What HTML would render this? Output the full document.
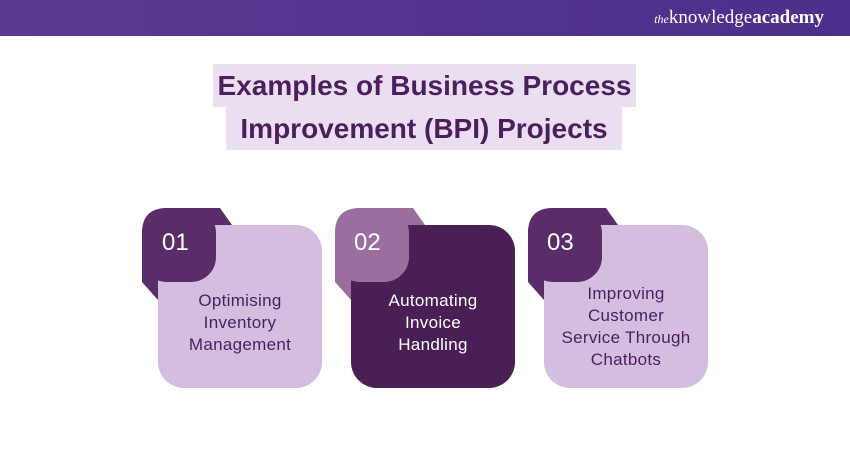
<!DOCTYPE html>
<html><head><style>
body{margin:0;width:850px;height:450px;background:#fff;position:relative;overflow:hidden;font-family:"Liberation Sans",sans-serif}
.hdr{position:absolute;left:0;top:0;width:850px;height:36px;background:linear-gradient(90deg,#5a3a92,#4b2f8c)}
.logo{position:absolute;right:26px;top:7px;color:#fff;font-family:"Liberation Serif",serif;font-size:19px}
.logo i{font-size:12px}
.t{position:absolute;background:#eadff0;color:#4b1f5e;font-weight:bold;font-size:28px;text-align:center;line-height:43px}
.lbl{position:absolute;font-size:17px;line-height:22px;text-align:center;letter-spacing:0.3px}
.num{position:absolute;color:#fff;font-size:24px}
</style></head><body>
<div class="hdr"><div class="logo"><i>the</i>knowledge<b>academy</b></div></div>
<div class="t" style="left:213px;top:64px;width:423px;height:43px">Examples of Business Process</div>
<div class="t" style="left:226px;top:107px;width:396px;height:43px">Improvement (BPI) Projects</div>
<svg width="850" height="450" style="position:absolute;left:0;top:0">
<g>
<path d="M167,208 L220,208 L232,225 L232,300 L158,300 L142,282 L142,233 Q142,208 167,208Z" fill="#5a2d68"/>
<rect x="158" y="225" width="164" height="163" rx="26" fill="#d5bde0"/>
<rect x="142" y="208" width="74" height="74" rx="25" fill="#5a2d68"/>
</g>
<g>
<path d="M360,208 L413,208 L425,225 L425,300 L351,300 L335,282 L335,233 Q335,208 360,208Z" fill="#9a6fa0"/>
<rect x="351" y="225" width="164" height="163" rx="26" fill="#4a1f55"/>
<rect x="335" y="208" width="74" height="74" rx="25" fill="#9a6fa0"/>
</g>
<g>
<path d="M553,208 L606,208 L618,225 L618,300 L544,300 L528,282 L528,233 Q528,208 553,208Z" fill="#5a2d68"/>
<rect x="544" y="225" width="164" height="163" rx="26" fill="#d5bde0"/>
<rect x="528" y="208" width="74" height="74" rx="25" fill="#5a2d68"/>
</g>
</svg>
<div class="num" style="left:162px;top:229px">01</div>
<div class="num" style="left:354px;top:229px">02</div>
<div class="num" style="left:547px;top:229px">03</div>
<div class="lbl" style="left:165px;top:290px;width:150px;color:#4b1f5e">Optimising<br>Inventory<br>Management</div>
<div class="lbl" style="left:358px;top:290px;width:150px;color:#fff">Automating<br>Invoice<br>Handling</div>
<div class="lbl" style="left:546px;top:283px;width:160px;color:#4b1f5e">Improving<br>Customer<br>Service Through<br>Chatbots</div>
</body></html>
